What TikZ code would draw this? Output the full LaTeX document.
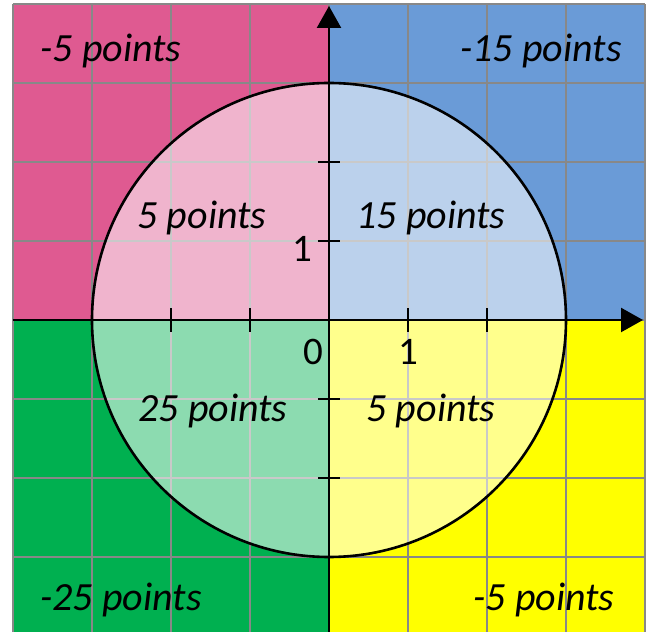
\documentclass[tikz,border=0pt]{standalone}
\usepackage{fontspec}
\setmainfont{Carlito}
\usetikzlibrary{arrows.meta}
\definecolor{qpink}{HTML}{DF5A91}
\definecolor{qblue}{HTML}{6A9BD7}
\definecolor{qgreen}{HTML}{00B050}
\definecolor{qyellow}{HTML}{FFFF00}
\definecolor{gridgray}{HTML}{888888}
\begin{document}
\begin{tikzpicture}[x=1pt,y=1pt,
  gridline/.style={draw=gridgray, line width=1.3pt},
  lbl/.style={font=\fontsize{40}{44}\selectfont\itshape, anchor=base, inner sep=0pt},
  num/.style={font=\fontsize{39}{44}\selectfont, anchor=base, inner sep=0pt},
  axisline/.style={line width=2.4pt, -{Triangle[length=22pt,width=24pt]}},
  tickmark/.style={line width=2.6pt},
  disc/.style={circle, minimum size=474pt, inner sep=0pt, fill=white, fill opacity=0.55, draw=black, draw opacity=1, line width=2.6pt}
]
\useasboundingbox (-329,-312) rectangle (317,320);
\fill[white] (-329,-312) rectangle (317,320);
\clip (-329,-312) rectangle (317,320);
% quadrants
\fill[qpink] (-316,0) rectangle (0,316);
\fill[qblue] (0,0) rectangle (316,316);
\fill[qgreen] (-316,-316) rectangle (0,0);
\fill[qyellow] (0,-316) rectangle (316,0);
% grid
\draw[gridline] (-316,-316) grid[step=79] (316,316);
% circle
\node[disc] (c) at (0,0) {};
% axes
\coordinate (xl) at (-316,0);
\coordinate (xr) at (314,0);
\coordinate (yb) at (0,-316);
\coordinate (yt) at (0,314);
\draw[axisline] (xl) -- (xr);
\draw[axisline] (yb) -- (yt);
% ticks
\foreach \t/\n in {-158/xa,-79/xb,79/xc,158/xd}{
  \coordinate (\n1) at (\t,-12);
  \coordinate (\n2) at (\t,12);
  \draw[tickmark] (\n1) -- (\n2);
}
\foreach \t/\n in {-158/ya,-79/yb,79/yc,158/yd}{
  \coordinate (\n1) at (-11,\t);
  \coordinate (\n2) at (11,\t);
  \draw[tickmark] (\n1) -- (\n2);
}
% tick labels
\node[num] (zero) at (-16,-45) {0};
\node[num] (xone) at (79,-45) {1};
\node[num] (yone) at (-27,58) {1};
% labels
\node[lbl] (tl) at (-218,258) {-5 points};
\node[lbl] (tr) at (212,258) {-15 points};
\node[lbl] (bl) at (-208,-290) {-25 points};
\node[lbl] (br) at (215,-290) {-5 points};
\node[lbl] (itl) at (-127,91) {5 points};
\node[lbl] (itr) at (102,91) {15 points};
\node[lbl] (ibl) at (-116,-102) {25 points};
\node[lbl] (ibr) at (102,-102) {5 points};
\end{tikzpicture}
\end{document}
